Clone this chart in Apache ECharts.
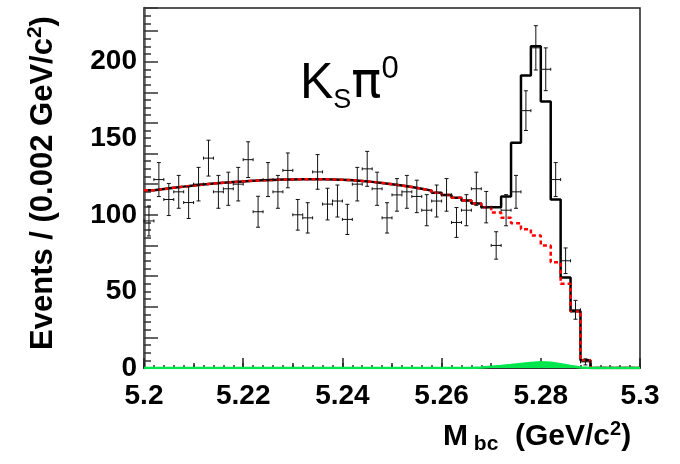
<!DOCTYPE html>
<html>
<head>
<meta charset="utf-8">
<script src="https://cdn.jsdelivr.net/npm/echarts@6/dist/echarts.min.js"></script>
<style>
html, body { margin: 0; padding: 0; background: #fff; }
#main { width: 680px; height: 464px; }
</style>
</head>
<body>
<div id="main"></div>
<script>
// bins: 0.002 GeV wide from 5.2
var binLo = 5.2;
var binW = 0.002;

// data counts per bin (bins 45-49 empty)
var counts = [96, 123, 110, 115, 108, 120, 137, 115, 117, 120,
              136, 102, 123, 115, 129, 100, 98, 128, 107, 109,
              97, 120, 130, 117, 98, 113, 115, 112, 103, 109,
              113, 95, 103, 117, 105, 80, 103, 115, 168, 209,
              195, 123, 70, 38, 4];

// total fit (black histogram)
var totalFit = [116.0, 116.8, 117.6, 118.4, 119.1, 119.8, 120.4, 120.9, 121.4, 121.8,
                122.2, 122.5, 122.8, 123.0, 123.1, 123.2, 123.2, 123.2, 123.1, 122.9,
                122.6, 122.1, 121.5, 120.8, 120.0, 119.1, 118.1, 117.0, 115.8, 114.4,
                112.9, 111.2, 109.4, 107.4, 105, 105, 112, 147, 191, 210,
                174, 110, 59, 37, 5, 0, 0, 0, 0, 0];

// continuum background (red dashed)
var bgFit = [116.0, 116.8, 117.6, 118.4, 119.1, 119.8, 120.4, 120.9, 121.4, 121.8,
             122.2, 122.5, 122.8, 123.0, 123.1, 123.2, 123.2, 123.2, 123.1, 122.9,
             122.6, 122.1, 121.5, 120.8, 120.0, 119.1, 118.1, 117.0, 115.8, 114.4,
             112.9, 111.2, 109.4, 107.4, 105.0, 101.5, 98.0, 94.5, 90.5, 86.5,
             80, 69, 55, 37, 5, 0, 0, 0, 0, 0];

// peaking background (green)
var peakBg = [0, 0, 0, 0, 0, 0, 0, 0, 0, 0,
              0, 0, 0, 0, 0, 0, 0, 0, 0, 0,
              0, 0, 0, 0, 0, 0, 0, 0, 0, 0,
              0, 0, 0, 0.3, 0.8, 1.3, 1.9, 2.6, 3.3, 3.8,
              3.5, 2.5, 1.3, 0.4, 0, 0, 0, 0, 0, 0];

var font = "'Liberation Sans', Arial, sans-serif";

function steps(vals) {
    var pts = [];
    for (var i = 0; i < vals.length; i++) {
        pts.push([+(binLo + i * binW).toFixed(3), vals[i]]);
    }
    pts.push([+(binLo + vals.length * binW).toFixed(3), vals[vals.length - 1]]);
    return pts;
}

var points = counts.map(function (v, i) {
    return [+(binLo + (i + 0.5) * binW).toFixed(4), v];
});

var chart = echarts.init(document.getElementById('main'));
chart.setOption({
    animation: false,
    backgroundColor: '#fff',
    title: {
        text: '{a|K}{b|S}{g|π}{c|0}',
        left: 300,
        top: 54,
        padding: 0,
        textStyle: {
            fontWeight: 'normal',
            rich: {
                a: { fontSize: 50, lineHeight: 60, fontFamily: font, fontWeight: 'normal', color: '#000' },
                g: { fontSize: 50, lineHeight: 60, fontFamily: "'DejaVu Sans', sans-serif", fontWeight: 'normal', color: '#000' },
                b: { fontSize: 27, lineHeight: 27, fontFamily: font, fontWeight: 'normal', color: '#000', verticalAlign: 'bottom' },
                c: { fontSize: 31, lineHeight: 31, fontFamily: font, fontWeight: 'normal', color: '#000', verticalAlign: 'top' }
            }
        }
    },
    grid: {
        left: 144, right: 40, top: 8, bottom: 96,
        containLabel: false,
        show: true,
        borderColor: '#222',
        borderWidth: 1.5
    },
    xAxis: [{
        type: 'value', min: 5.2, max: 5.3, interval: 0.02, position: 'bottom',
        axisLine: { show: true, onZero: false, lineStyle: { color: '#333', width: 2 } },
        axisTick: { show: true, inside: true, length: 10, lineStyle: { color: '#222', width: 1.5 } },
        minorTick: { show: true, splitNumber: 10, length: 3, lineStyle: { color: '#333', width: 1.5 } },
        axisLabel: {
            margin: 14, fontSize: 28, fontWeight: 'bold', fontFamily: font, color: '#000',
            formatter: function (v) { return String(+v.toFixed(3)); }
        },
        splitLine: { show: false }
    }, {
        type: 'value', min: 5.2, max: 5.3, interval: 0.01, position: 'bottom',
        axisLine: { show: false },
        axisTick: { show: true, inside: true, length: 5, lineStyle: { color: '#222', width: 1.5 } },
        axisLabel: { show: false },
        splitLine: { show: false }
    }],
    yAxis: [{
        type: 'value', min: 0, max: 235, interval: 50, position: 'left',
        axisLine: { show: true, onZero: false, lineStyle: { color: '#555', width: 2.5 } },
        axisTick: { show: false },
        axisLabel: { margin: 7, fontSize: 28, fontWeight: 'bold', fontFamily: font, color: '#000', showMaxLabel: false },
        splitLine: { show: false }
    }, {
        type: 'value', min: 0, max: 235, interval: 20, position: 'left',
        axisLine: { show: false },
        axisTick: { show: true, inside: true, length: 14, lineStyle: { color: '#333', width: 1.5 } },
        minorTick: { show: true, splitNumber: 4, length: 7, lineStyle: { color: '#333', width: 1.5 } },
        axisLabel: { show: false },
        splitLine: { show: false }
    }],
    graphic: [{
        type: 'text',
        left: 443,
        top: 419,
        style: {
            text: '{m|M}{s| bc}{m|  (GeV/c}{p|2}{m|)}',
            rich: {
                m: { fontSize: 30, lineHeight: 36, fontWeight: 'bold', fontFamily: font, fill: '#000' },
                s: { fontSize: 21, lineHeight: 21, fontWeight: 'bold', fontFamily: font, fill: '#000', verticalAlign: 'bottom' },
                p: { fontSize: 20, lineHeight: 20, fontWeight: 'bold', fontFamily: font, fill: '#000', verticalAlign: 'top' }
            }
        }
    }, {
        type: 'text',
        x: 43,
        y: 183,
        rotation: Math.PI / 2,
        style: {
            text: '{m|Events / (0.002 GeV/c}{p|2}{m|)}',
            align: 'center',
            verticalAlign: 'middle',
            rich: {
                m: { fontSize: 31, lineHeight: 37, fontWeight: 'bold', fontFamily: font, fill: '#000' },
                p: { fontSize: 21, lineHeight: 21, fontWeight: 'bold', fontFamily: font, fill: '#000', verticalAlign: 'top' }
            }
        }
    }],
    series: [{
        name: 'total',
        type: 'line',
        step: 'end',
        data: steps(totalFit),
        symbol: 'none',
        lineStyle: { color: '#000', width: 2.5 },
        z: 3
    }, {
        name: 'background',
        type: 'line',
        step: 'end',
        data: steps(bgFit),
        symbol: 'none',
        lineStyle: { color: '#ff0000', width: 2.5, type: [4, 3] },
        z: 4
    }, {
        name: 'peaking',
        type: 'line',
        step: 'end',
        data: steps(peakBg),
        symbol: 'none',
        lineStyle: { color: '#00e64d', width: 2.5 },
        areaStyle: { color: '#00e64d', opacity: 1 },
        z: 5
    }, {
        name: 'data',
        type: 'custom',
        data: points,
        z: 6,
        renderItem: function (params, api) {
            var x = api.value(0), v = api.value(1), e = Math.sqrt(v);
            var c = api.coord([x, v]);
            var t = api.coord([x, v + e]);
            var b = api.coord([x, v - e]);
            var l = api.coord([x - binW / 2, v]);
            var r = api.coord([x + binW / 2, v]);
            var st = { stroke: '#111', lineWidth: 1 };
            function seg(x1, y1, x2, y2) {
                return { type: 'line', shape: { x1: x1, y1: y1, x2: x2, y2: y2 }, style: st };
            }
            return {
                type: 'group',
                children: [
                    seg(c[0], t[1], c[0], b[1]),
                    seg(c[0] - 2, t[1], c[0] + 2, t[1]),
                    seg(c[0] - 2, b[1], c[0] + 2, b[1]),
                    seg(l[0], c[1], r[0], c[1]),
                    seg(l[0], c[1] - 1.5, l[0], c[1] + 1.5),
                    seg(r[0], c[1] - 1.5, r[0], c[1] + 1.5)
                ]
            };
        }
    }]
});
</script>
</body>
</html>
